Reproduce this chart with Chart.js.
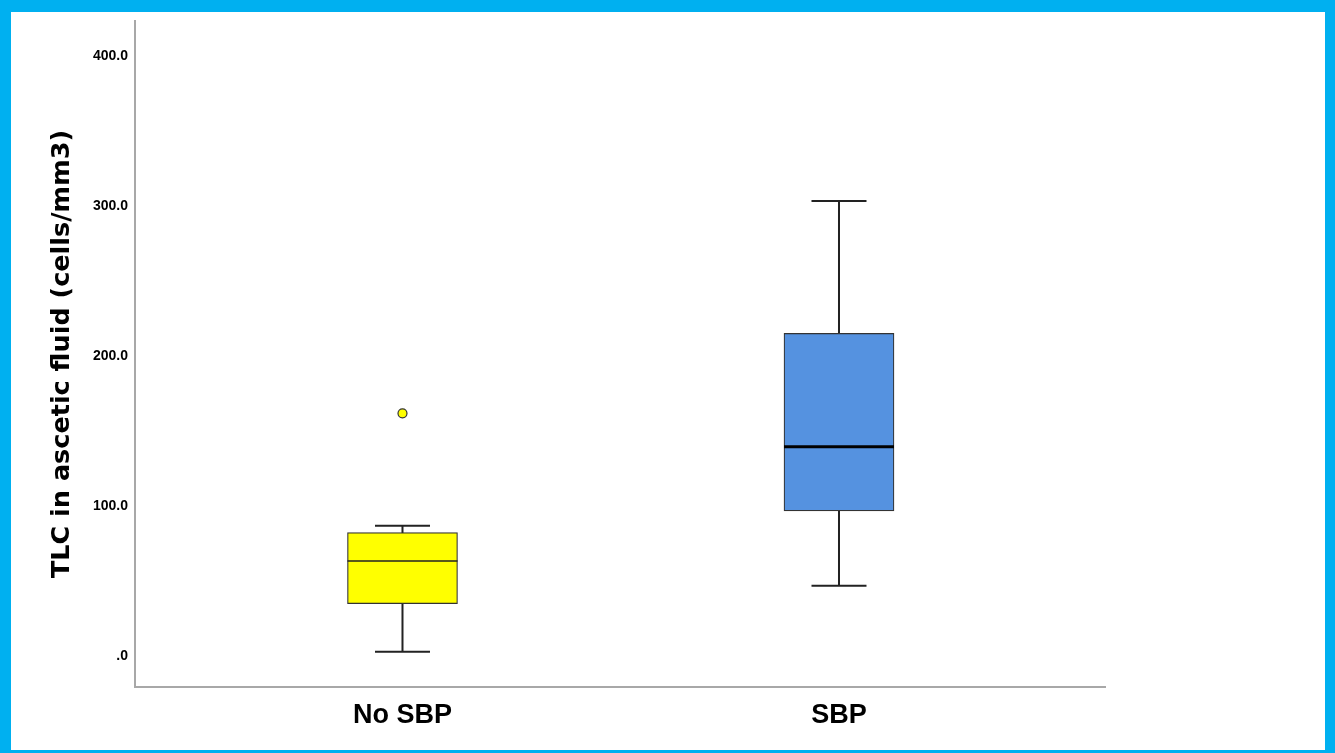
<!DOCTYPE html>
<html>
<head>
<meta charset="utf-8">
<title>TLC in ascetic fluid</title>
<script src="https://cdn.jsdelivr.net/npm/chart.js@4/dist/chart.umd.min.js"></script>
<style>
  html, body { margin: 0; padding: 0; background: #fff; }
  #frame {
    position: absolute; left: 0; top: 0;
    width: 1335px; height: 753px; box-sizing: border-box;
    border-style: solid; border-color: #00B0F0;
    border-width: 12px 10px 3px 11px;
    background: #fff;
  }
  #c { display: block; width: 1314px; height: 738px; }
</style>
</head>
<body>
<div id="frame"><canvas id="c" width="1314" height="738"></canvas></div>
<script>
// Box-plot summary per group (cells/mm3)
const groups = ['No SBP', 'SBP'];
const lowerWhisker = [2.9, 46.9];
const q1 = [34.9, 96.7];
const median = [63.3, 139.5];
const q3 = [82.2, 215.1];
const upperWhisker = [86.9, 303.3];
const outliers = [[161.8], []];
const yTicks = [0, 100, 200, 300, 400];

// Styling
const boxColors = ['#FFFF00', '#5592E0'];
const medianWidths = [1.6, 3.2];
const lineColor = '#222222';

const boxData = groups.map((g, i) => ({ x: i + 1, y: [q1[i], q3[i]] }));
const outlierData = [];
outliers.forEach((list, i) => list.forEach(v => outlierData.push({ x: i + 1, y: v })));

// Whiskers under the boxes, medians on top, all positioned through the chart scales
const boxPlotLines = {
  id: 'boxPlotLines',
  beforeDatasetsDraw(chart) {
    const { ctx, scales: { y } } = chart;
    const bars = chart.getDatasetMeta(0).data;
    ctx.save();
    ctx.strokeStyle = lineColor;
    ctx.lineWidth = 2;
    bars.forEach((bar, i) => {
      const yLo = y.getPixelForValue(lowerWhisker[i]);
      const yHi = y.getPixelForValue(upperWhisker[i]);
      const half = bar.width / 4;
      ctx.beginPath();
      ctx.moveTo(bar.x, yLo); ctx.lineTo(bar.x, yHi);
      ctx.moveTo(bar.x - half, yLo); ctx.lineTo(bar.x + half, yLo);
      ctx.moveTo(bar.x - half, yHi); ctx.lineTo(bar.x + half, yHi);
      ctx.stroke();
    });
    ctx.restore();
  },
  afterDatasetsDraw(chart) {
    const { ctx, scales: { y } } = chart;
    const bars = chart.getDatasetMeta(0).data;
    ctx.save();
    bars.forEach((bar, i) => {
      const ym = y.getPixelForValue(median[i]);
      ctx.strokeStyle = i === 1 ? '#000000' : lineColor;
      ctx.lineWidth = medianWidths[i];
      ctx.beginPath();
      ctx.moveTo(bar.x - bar.width / 2, ym);
      ctx.lineTo(bar.x + bar.width / 2, ym);
      ctx.stroke();
    });
    ctx.restore();
  }
};

new Chart(document.getElementById('c'), {
  type: 'bar',
  data: {
    datasets: [
      {
        type: 'bar',
        data: boxData,
        backgroundColor: boxColors,
        borderColor: '#333333',
        borderWidth: 1.2,
        borderSkipped: false,
        barThickness: 110,
        order: 2
      },
      {
        type: 'scatter',
        data: outlierData,
        backgroundColor: '#FFFF00',
        borderColor: '#333333',
        borderWidth: 1.2,
        pointRadius: 4.5,
        order: 1
      }
    ]
  },
  plugins: [boxPlotLines],
  options: {
    responsive: false,
    animation: false,
    layout: { padding: { top: 9, right: 220, left: 0, bottom: 0 } },
    plugins: { legend: { display: false }, tooltip: { enabled: false } },
    scales: {
      x: {
        type: 'linear',
        offset: false,
        min: 0.3872,
        max: 2.6094,
        grid: { display: false, drawTicks: false, offset: false },
        border: { display: true, color: '#A8A8A8', width: 2 },
        afterBuildTicks: s => { s.ticks = groups.map((g, i) => ({ value: i + 1 })); },
        afterFit: s => { s.height = 63; s.paddingLeft = 0; s.paddingRight = 0; },
        ticks: {
          padding: 12,
          color: '#000',
          maxRotation: 0,
          autoSkip: false,
          font: { family: "'Liberation Sans', Arial, sans-serif", size: 27, weight: 'bold' },
          callback: v => groups[v - 1] ?? ''
        }
      },
      y: {
        type: 'linear',
        min: -20.67,
        max: 423.33,
        grid: { display: false, drawTicks: false },
        border: { display: true, color: '#A8A8A8', width: 2 },
        afterBuildTicks: s => { s.ticks = yTicks.map(v => ({ value: v })); },
        afterFit: s => { s.width = 124; s.paddingTop = 0; s.paddingBottom = 0; },
        ticks: {
          padding: 7,
          color: '#000',
          font: { family: "'Liberation Sans', Arial, sans-serif", size: 14, weight: 'bold' },
          callback: v => (v === 0 ? '.0' : v.toFixed(1))
        },
        title: {
          display: true,
          text: 'TLC in ascetic fluid (cells/mm3)',
          color: '#000',
          padding: { top: 36, bottom: 0 },
          font: { family: "'DejaVu Sans', sans-serif", size: 25.5, weight: 'bold' }
        }
      }
    }
  }
});
</script>
</body>
</html>
